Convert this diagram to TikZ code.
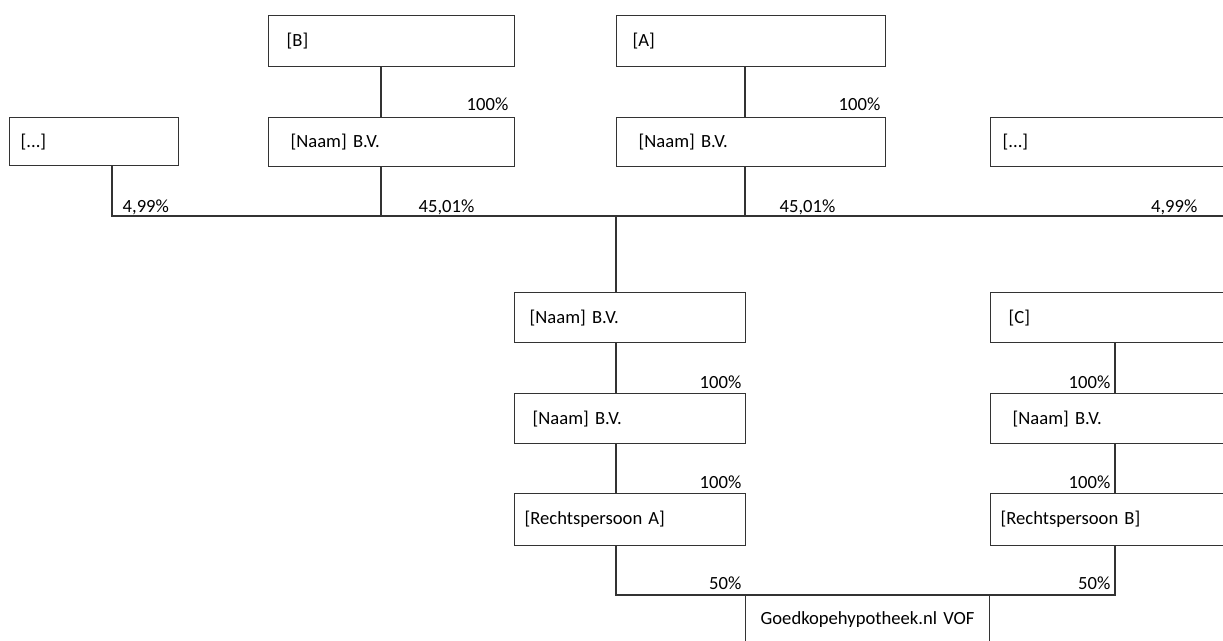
\documentclass[tikz,border=0pt]{standalone}
\usepackage{fontspec}
\setmainfont{Carlito}
\usetikzlibrary{positioning}
\definecolor{linec}{HTML}{333333}

\begin{document}
\begin{tikzpicture}[x=1pt,y=-1pt,line width=1.4pt,draw=linec,
	every node/.style={font=\fontsize{18.6}{22}\selectfont},
	entity/.style={draw=linec,rectangle,anchor=north west,align=left,inner ysep=0pt,minimum height=#1},
	entity/.default=50,
	pct/.style={inner sep=0pt}]

\useasboundingbox (0,0) rectangle (1223,640);

% bovenste laag
\node[entity=51,inner xsep=18pt,text width=210pt]	(b)	at (268,15)	{[B]};
\node[entity=51,inner xsep=16pt,text width=237pt]	(a)	at (616,15)	{[A]};
\node[entity=48,inner xsep=11pt,text width=147pt]	(dotsL)	at (9,117)	{[...]};
\node[entity=49,inner xsep=22pt,text width=202pt]	(nb)	at (268,117)	{[Naam] B.V.};
\node[entity=49,inner xsep=22pt,text width=225pt]	(na)	at (616,117)	{[Naam] B.V.};
\node[entity=49,inner xsep=12pt,text width=216pt]	(dotsR)	at (990,117)	{[...]};

% middelste laag
\node[entity,inner xsep=15pt,text width=201pt]	(n1)	at (514,292)	{[Naam] B.V.};
\node[entity,inner xsep=18pt,text width=204pt]	(c)	at (990,292)	{[C]};
\node[entity,inner xsep=18pt,text width=195pt]	(n2)	at (514,393)	{[Naam] B.V.};
\node[entity,inner xsep=22pt,text width=196pt]	(n3)	at (990,393)	{[Naam] B.V.};
\node[entity=52,inner xsep=10pt,text width=211pt]	(ra)	at (514,493)	{[Rechtspersoon A]};
\node[entity=52,inner xsep=10pt,text width=220pt]	(rb)	at (990,493)	{[Rechtspersoon B]};
\node[entity=48,inner xsep=12pt,text width=220pt]	(vof)	at (745,595)	{\hspace*{3pt}Goedkopehypotheek.nl VOF};

% knooppunten
\coordinate (jL) at (112,216);
\coordinate (jB) at (381,216);
\coordinate (jM) at (616,216);
\coordinate (jA) at (745,216);
\coordinate (jE) at (1230,216);
\coordinate (kL) at (616,595);
\coordinate (kR) at (1115,595);

\draw (dotsL.south -| jL) -- (jL) -- (jE);
\draw (b.south -| jB) -- (nb.north -| jB);
\draw (nb.south -| jB) -- (jB);
\draw (a.south -| jA) -- (na.north -| jA);
\draw (na.south -| jA) -- (jA);
\draw (jM) -- (n1.north -| jM);

\draw (n1.south -| kL) -- (n2.north -| kL);
\draw (n2.south -| kL) -- (ra.north -| kL);
\draw (ra.south -| kL) -- (kL) -- (kR) -- (rb.south -| kR);
\draw (c.south -| kR) -- (n3.north -| kR);
\draw (n3.south -| kR) -- (rb.north -| kR);

% percentages
\node[pct,anchor=base east]	(pB)	at (509,110)	{100\%};
\node[pct,anchor=base east]	(pA)	at (881,110)	{100\%};
\node[pct,anchor=base west]	(pL)	at (122,212)	{4,99\%};
\node[pct,anchor=base west]	(pBm)	at (418,212)	{45,01\%};
\node[pct,anchor=base west]	(pAm)	at (779,212)	{45,01\%};
\node[pct,anchor=base east]	(pR)	at (1198,212)	{4,99\%};
\node[pct,anchor=base east]	(p1)	at (742,388)	{100\%};
\node[pct,anchor=base east]	(p2)	at (742,488)	{100\%};
\node[pct,anchor=base east]	(p3)	at (742,589)	{50\%};
\node[pct,anchor=base east]	(p4)	at (1111,388)	{100\%};
\node[pct,anchor=base east]	(p5)	at (1111,488)	{100\%};
\node[pct,anchor=base east]	(p6)	at (1111,589)	{50\%};

\end{tikzpicture}
\end{document}
